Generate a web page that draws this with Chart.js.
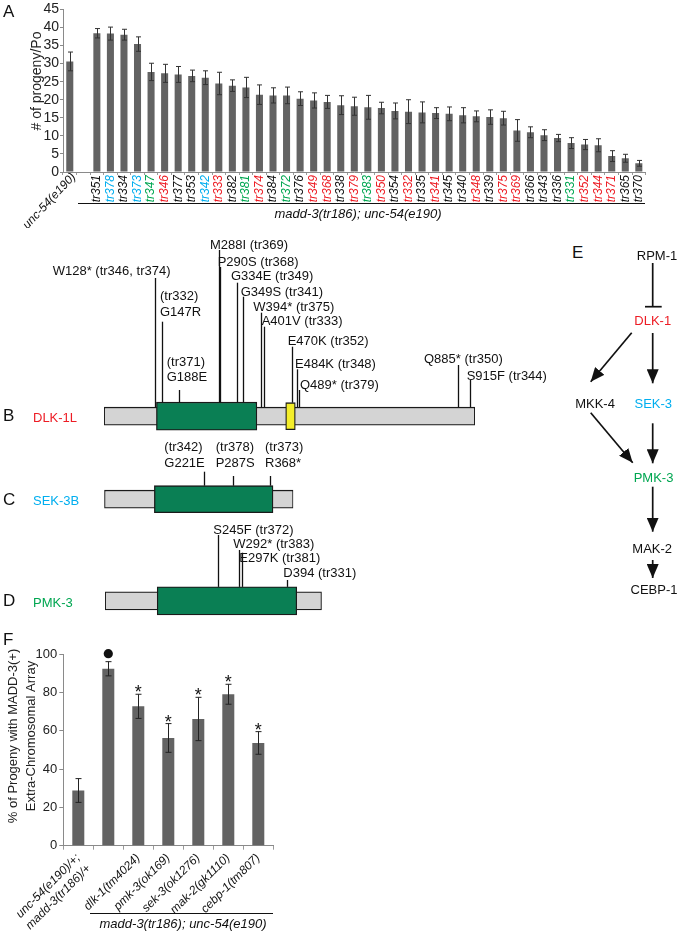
<!DOCTYPE html>
<html><head><meta charset="utf-8">
<script src="https://cdn.jsdelivr.net/npm/chart.js@4.4.1/dist/chart.umd.min.js"></script>
<style>
html,body{margin:0;padding:0;background:#fff;}
#wrap{position:relative;width:680px;height:932px;overflow:hidden;font-family:"Liberation Sans",Arial,sans-serif;color:#111;}
canvas{position:absolute;left:0;}
.t{position:absolute;line-height:1;white-space:nowrap;font-family:"Liberation Sans",Arial,sans-serif;}
.pl{font-size:17px;color:#111;}
.pn{font-size:13px;}
.ul{position:absolute;height:0;border-top:1.5px solid #111;}
.it{font-style:italic;font-size:13px;transform:translateX(-50%);}
</style></head>
<body><div id="wrap">
<canvas id="cA" width="680" height="228" style="top:0"></canvas>
<canvas id="cB" width="560" height="210" style="top:230px"></canvas>
<canvas id="cC" width="560" height="90" style="top:430px"></canvas>
<canvas id="cD" width="560" height="104" style="top:520px"></canvas>
<canvas id="cF" width="300" height="342" style="top:590px"></canvas>

<div class="t pl" style="left:3px;top:2.6px">A</div>
<div class="t pl" style="left:3px;top:406.6px">B</div>
<div class="t pl" style="left:3px;top:490.6px">C</div>
<div class="t pl" style="left:3px;top:592.3px">D</div>
<div class="t pl" style="left:572px;top:243.6px">E</div>
<div class="t pl" style="left:3px;top:630.6px">F</div>

<div class="t pn" style="left:33px;top:411px;color:#ed1c24">DLK-1L</div>
<div class="t pn" style="left:33px;top:493.5px;color:#00aeef">SEK-3B</div>
<div class="t pn" style="left:33px;top:596px;color:#00a651">PMK-3</div>

<div class="ul" style="left:78px;top:202.5px;width:567px"></div>
<div class="t it" style="left:358px;top:206.5px">madd-3(tr186); unc-54(e190)</div>
<div class="ul" style="left:90px;top:912.5px;width:183px"></div>
<div class="t it" style="left:183px;top:916.5px">madd-3(tr186); unc-54(e190)</div>

<svg style="position:absolute;left:0;top:0" width="680" height="932">
<defs>
<marker id="ah" markerUnits="userSpaceOnUse" markerWidth="14" markerHeight="12" refX="14" refY="6" orient="auto">
<path d="M0,0 L14,6 L0,12 Z" fill="#111"/></marker>
</defs>
<g font-family="Liberation Sans, Arial, sans-serif" font-size="13" text-anchor="middle">
<text x="657" y="259.7" fill="#111">RPM-1</text>
<text x="652.7" y="325.4" fill="#ed1c24">DLK-1</text>
<text x="595" y="408" fill="#111">MKK-4</text>
<text x="653.3" y="408" fill="#00aeef">SEK-3</text>
<text x="653.5" y="482" fill="#00a651">PMK-3</text>
<text x="652.2" y="553" fill="#111">MAK-2</text>
<text x="654" y="594" fill="#111">CEBP-1</text>
</g>
<g stroke="#111" stroke-width="1.7" fill="none">
<line x1="652.7" y1="263" x2="652.7" y2="306.7"/>
<line x1="645" y1="306.7" x2="661.7" y2="306.7"/>
<line x1="652.7" y1="333" x2="652.7" y2="383.3" marker-end="url(#ah)"/>
<line x1="631.7" y1="332.7" x2="590.7" y2="381.7" marker-end="url(#ah)"/>
<line x1="590.7" y1="412.7" x2="632.7" y2="462.7" marker-end="url(#ah)"/>
<line x1="652.7" y1="423.3" x2="652.7" y2="463.3" marker-end="url(#ah)"/>
<line x1="652.7" y1="486.7" x2="652.7" y2="531.7" marker-end="url(#ah)"/>
<line x1="652.7" y1="560" x2="652.7" y2="578" marker-end="url(#ah)"/>
</g>
</svg>
</div>
<script>
const FONT = "'Liberation Sans', Arial, Helvetica, sans-serif";

// ---------- Panel A data ----------
const strainsA = ['unc-54(e190)','','tr351','tr378','tr334','tr373','tr347','tr346','tr377','tr353','tr342','tr333','tr382','tr381','tr374','tr384','tr372','tr376','tr349','tr368','tr338','tr379','tr383','tr350','tr354','tr332','tr335','tr341','tr345','tr340','tr348','tr339','tr375','tr369','tr366','tr343','tr336','tr331','tr352','tr344','tr371','tr365','tr370'];
const progenyMean = [30.6,null,38.4,38.3,38.0,35.4,27.7,27.3,27.0,26.6,26.1,24.5,23.9,23.4,21.4,21.2,21.2,20.3,19.8,19.4,18.5,18.2,17.9,17.7,16.9,16.7,16.5,16.3,16.1,15.7,15.4,15.2,14.9,11.5,11.0,10.2,9.4,8.0,7.6,7.4,4.4,3.8,2.4];
const progenyErr  = [2.6,null,1.3,1.8,1.5,2.0,2.4,2.5,2.2,1.6,1.9,3.1,1.6,2.8,2.7,2.1,2.3,1.9,2.1,1.8,2.6,2.5,3.3,1.6,2.2,3.3,2.9,1.5,1.9,2.1,1.5,2.0,1.9,3.0,1.5,1.5,1.0,1.5,1.4,1.8,1.5,1.1,0.8];
const yTicksA = [0,5,10,15,20,25,30,35,40,45];
const dlkAlleles = ['tr346','tr333','tr374','tr349','tr368','tr379','tr350','tr332','tr341','tr348','tr375','tr369','tr352','tr344','tr371'];
const sekAlleles = ['tr378','tr373','tr342'];
const pmkAlleles = ['tr347','tr381','tr372','tr383','tr331'];

// ---------- Panels B-D data ----------
const dlkLength = 928;
const dlkDomains = [[1,928],[132,383],[455,479]];
const dlkPositions = [128,147,188,288,290,334,349,394,401,470,484,489,885,915];
const dlkLabels = [['W128* (tr346, tr374)'],['(tr332)','G147R'],['(tr371)','G188E'],['M288I (tr369)'],['P290S (tr368)'],['G334E (tr349)'],['G349S (tr341)'],['W394* (tr375)'],['A401V (tr333)'],['E470K (tr352)'],['E484K (tr348)'],['Q489* (tr379)'],['Q885* (tr350)'],['S915F (tr344)']];
const sekLength = 420;
const sekDomains = [[1,420],[112,375]];
const sekPositions = [221,287,368];
const sekLabels = [['(tr342)','G221E'],['(tr378)','P287S'],['(tr373)','R368*']];
const pmkLength = 470;
const pmkDomains = [[1,470],[114,416]];
const pmkPositions = [245,292,297,394];
const pmkLabels = [['S245F (tr372)'],['W292* (tr383)'],['E297K (tr381)'],['D394 (tr331)']];

// ---------- Panel F data ----------
const genotypesF = [['unc-54(e190)/+;','madd-3(tr186)/+'],'','dlk-1(tm4024)','pmk-3(ok169)','sek-3(ok1276)','mak-2(gk1110)','cebp-1(tm807)'];
const arrayPct = [28.8,92.3,72.7,56.2,66.1,79.0,53.6];
const arrayErr = [6.2,3.7,6.3,7.5,11.3,5.2,5.9];
const sigMarks = ['','dot','*','*','*','*','*'];
const yTicksF = [0,20,40,60,80,100];

// ---------- layout (page px) ----------
const dlkLabelLayout = [[52.7,[270],278],[160,[295.7,311],321.7],[166.7,[361,376],390],[210,[244],250],[217.7,[261.7],267],[231,[275.7],282.7],[240.7,[291],296.7],[253.3,[306.7],312.7],[261.7,[320.7],326.7],[287.7,[340],346.7],[295,[363.3],369.3],[300,[384],390],[424,[358.3],365],[466.7,[375],380]];
const sekLabelLayout = [[164.3,[446,462.3],471.7],[215.7,[446,462.3],476],[265,[446,462.3],476]];
const pmkLabelLayout = [[213.3,[529],535],[233.3,[543.3],550],[239.3,[557.7],552.7],[283.3,[572.7],580]];

function alleleColor(s){
  if (dlkAlleles.includes(s)) return '#ed1c24';
  if (sekAlleles.includes(s)) return '#00aeef';
  if (pmkAlleles.includes(s)) return '#00a651';
  return '#111';
}

function errorBarPlugin(errs, cap, color){
  return {id:'errbars', afterDatasetsDraw(chart){
    const ctx=chart.ctx, xs=chart.scales.x, ys=chart.scales.y;
    const vals=chart.data.datasets[0].data;
    ctx.save(); ctx.strokeStyle=color; ctx.lineWidth=1;
    vals.forEach((v,i)=>{
      if (v==null) return;
      const px=Math.round(xs.getPixelForValue(i))+0.5;
      const t=ys.getPixelForValue(v+errs[i]), b=ys.getPixelForValue(v-errs[i]);
      ctx.beginPath();
      ctx.moveTo(px,t); ctx.lineTo(px,b);
      ctx.moveTo(px-cap,t); ctx.lineTo(px+cap,t);
      ctx.moveTo(px-cap,b); ctx.lineTo(px+cap,b);
      ctx.stroke();
    });
    ctx.restore();
  }};
}

// rotated y-axis title drawn at a chosen centre (canvas px)
function yTitlePlugin(lines, cx, cy, lineH, size){
  return {id:'ytitle', afterDraw(chart){
    const ctx=chart.ctx;
    ctx.save(); ctx.fillStyle='#222'; ctx.font=size+'px '+FONT; ctx.textAlign='center'; ctx.textBaseline='middle';
    lines.forEach((s,k)=>{
      ctx.save(); ctx.translate(cx + k*lineH, cy); ctx.rotate(-Math.PI/2); ctx.fillText(s,0,0); ctx.restore();
    });
    ctx.restore();
  }};
}

// ---------- Chart A ----------
new Chart(document.getElementById('cA'), {
  type:'bar',
  data:{labels:strainsA, datasets:[{data:progenyMean, backgroundColor:'#636363', borderWidth:0, barPercentage:0.52, categoryPercentage:1}]},
  options:{
    responsive:false, animation:false, devicePixelRatio:1,
    layout:{padding:{left:0,right:34.4,top:8.2,bottom:0}},
    plugins:{legend:{display:false}, tooltip:{enabled:false}},
    scales:{
      x:{
        grid:{display:true, drawOnChartArea:false, drawTicks:true, tickLength:3, color:'#9a9a9a', offset:true},
        border:{color:'#8a8a8a', width:1},
        ticks:{autoSkip:false, minRotation:90, maxRotation:90, padding:0,
          font:{family:FONT, size:12, style:'italic'},
          color:(c)=>alleleColor(strainsA[c.index]),
          callback:(v,i)=> i===0 ? '' : strainsA[i]},
        afterFit:(s)=>{ s.height = 56; }
      },
      y:{
        min:0, max:45,
        afterBuildTicks:(s)=>{ s.ticks = yTicksA.map(v=>({value:v})); },
        ticks:{autoSkip:false, font:{family:FONT, size:14}, color:'#222', padding:1},
        grid:{display:true, drawOnChartArea:false, drawTicks:true, tickLength:3, color:'#8a8a8a'},
        border:{color:'#8a8a8a', width:1},
        afterFit:(s)=>{ s.width = 63; }
      }
    }
  },
  plugins:[errorBarPlugin(progenyErr, 2.5, '#333'), yTitlePlugin(['# of progeny/Po'], 37.5, 81, 0, 14), {id:'firstLabel', afterDraw(chart){
    const ctx=chart.ctx, px=chart.scales.x.getPixelForValue(0);
    ctx.save(); ctx.translate(px+4, chart.chartArea.bottom+3); ctx.rotate(-47*Math.PI/180);
    ctx.textAlign='right'; ctx.textBaseline='middle'; ctx.font='italic 12px '+FONT; ctx.fillStyle='#111';
    ctx.fillText(strainsA[0],0,0); ctx.restore();
  }}]
});

// ---------- Protein diagrams ----------
function proteinChart(id, pageTop, centerY, xStart, xEnd, length, domains, colors, thick, positions, labels, layout){
  const cv=document.getElementById(id);
  const W=cv.width, H=cv.height, cy=centerY-pageTop;
  const datasets = domains.map((d,j)=>({data:[[d[0],d[1]]], backgroundColor:colors[j], borderColor:'#1a1a1a', borderWidth:1.3, borderSkipped:false, barThickness:thick[j], grouped:false, order:domains.length-j}));
  new Chart(cv, {
    type:'bar',
    data:{labels:['p'], datasets},
    options:{indexAxis:'y', responsive:false, animation:false, devicePixelRatio:1,
      layout:{padding:{left:xStart, right:W-xEnd, top:cy-20, bottom:H-cy-20}},
      plugins:{legend:{display:false}, tooltip:{enabled:false}},
      scales:{x:{type:'linear', min:1, max:length, display:false}, y:{display:false}}},
    plugins:[{id:'muts', afterDatasetsDraw(chart){
      const ctx=chart.ctx, xs=chart.scales.x, a=chart.chartArea, c=(a.top+a.bottom)/2;
      ctx.save(); ctx.strokeStyle='#111'; ctx.lineWidth=1.3; ctx.fillStyle='#111'; ctx.font='13px '+FONT; ctx.textBaseline='alphabetic';
      positions.forEach((p,i)=>{
        let h=0; domains.forEach((d,j)=>{ if(p>=d[0] && p<=d[1]) h=Math.max(h,thick[j]); });
        const px=Math.round(xs.getPixelForValue(p))+0.5;
        const [tx,tys,lt]=layout[i];
        ctx.beginPath(); ctx.moveTo(px, lt-pageTop); ctx.lineTo(px, c-h/2); ctx.stroke();
        labels[i].forEach((s,k)=>ctx.fillText(s, tx, tys[k]-pageTop+4.7));
      });
      ctx.restore();
    }}]
  });
}
proteinChart('cB', 230, 416.2, 104, 475, dlkLength, dlkDomains, ['#d4d4d4','#0a7f54','#f4ee2a'], [18,28,27], dlkPositions, dlkLabels, dlkLabelLayout);
proteinChart('cC', 430, 499.2, 104.3, 293.3, sekLength, sekDomains, ['#d4d4d4','#0a7f54'], [18,27], sekPositions, sekLabels, sekLabelLayout);
proteinChart('cD', 520, 600.9, 105, 321.7, pmkLength, pmkDomains, ['#d4d4d4','#0a7f54'], [18,28], pmkPositions, pmkLabels, pmkLabelLayout);

// ---------- Chart F ----------
new Chart(document.getElementById('cF'), {
  type:'bar',
  data:{labels:genotypesF, datasets:[{data:arrayPct, backgroundColor:'#636363', borderWidth:0, barPercentage:0.4, categoryPercentage:1}]},
  options:{
    responsive:false, animation:false, devicePixelRatio:1,
    layout:{padding:{left:0,right:26.7,top:64,bottom:0}},
    plugins:{legend:{display:false}, tooltip:{enabled:false}},
    scales:{
      x:{
        grid:{display:true, drawOnChartArea:false, drawTicks:true, tickLength:4, color:'#9a9a9a', offset:true},
        border:{color:'#8a8a8a', width:1},
        ticks:{autoSkip:false, minRotation:45, maxRotation:45, padding:1, color:'#111',
          font:{family:FONT, size:12, style:'italic', lineHeight:1.25}},
        afterFit:(s)=>{ s.height = 86.3; }
      },
      y:{
        min:0, max:100,
        afterBuildTicks:(s)=>{ s.ticks = yTicksF.map(v=>({value:v})); },
        ticks:{autoSkip:false, font:{family:FONT, size:13}, color:'#222', padding:2},
        grid:{display:true, drawOnChartArea:false, drawTicks:true, tickLength:4, color:'#8a8a8a'},
        border:{color:'#8a8a8a', width:1},
        afterFit:(s)=>{ s.width = 63.3; }
      }
    }
  },
  plugins:[errorBarPlugin(arrayErr, 3, '#222'), yTitlePlugin(['% of Progeny with MADD-3(+)','Extra-Chromosomal Array'], 13.3, 146, 18.4, 13), {id:'sig', afterDatasetsDraw(chart){
    const ctx=chart.ctx, xs=chart.scales.x, ys=chart.scales.y;
    ctx.save(); ctx.fillStyle='#111'; ctx.textAlign='center'; ctx.font='18px '+FONT;
    sigMarks.forEach((m,i)=>{
      if(!m) return;
      const px=xs.getPixelForValue(i), t=ys.getPixelForValue(arrayPct[i]+arrayErr[i]);
      if(m==='dot'){ ctx.beginPath(); ctx.arc(px, t-8, 4.6, 0, Math.PI*2); ctx.fill(); }
      else { ctx.fillText('*', px, t+4); }
    });
    ctx.restore();
  }}]
});
</script>
</body></html>
